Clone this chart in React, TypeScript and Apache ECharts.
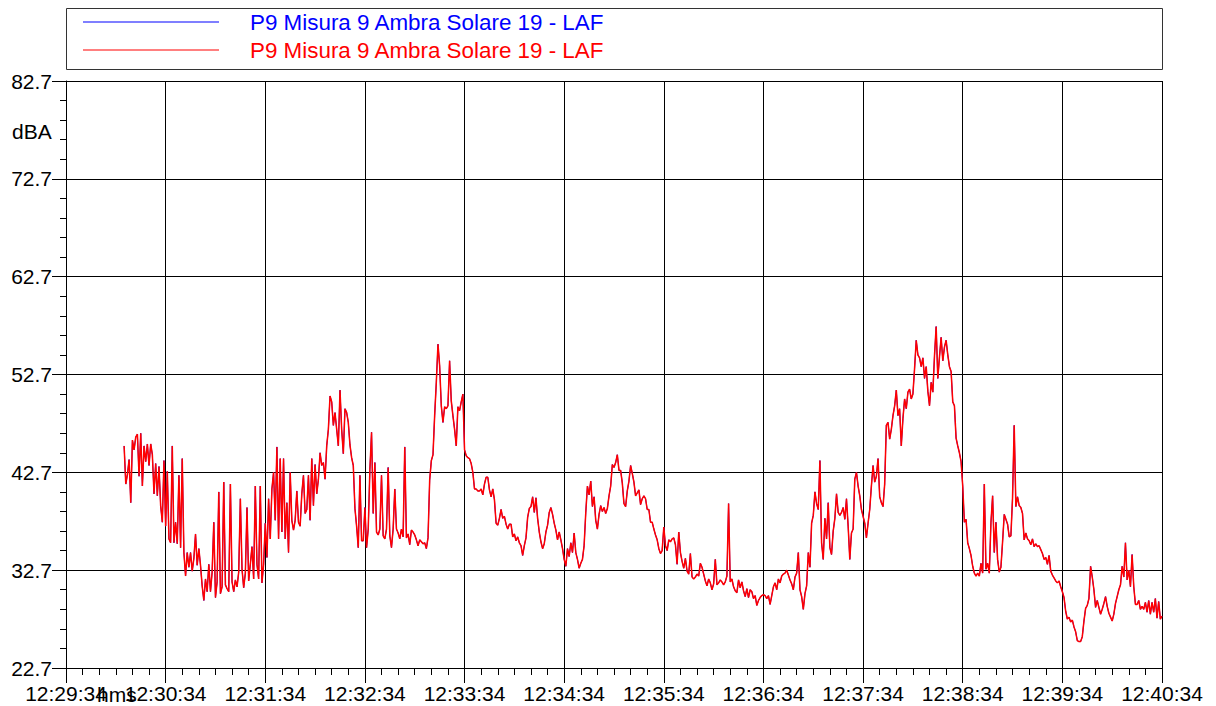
import React, { useEffect, useRef } from "react";
import * as echarts from "echarts";

const SERIES_NAME = "P9 Misura 9 Ambra Solare 19 - LAF";
const X_UNIT = "hms";
const Y_UNIT = "dBA";
// x axis: seconds after 12:29:34
const FIRST_SAMPLE_SEC = 35;
const SAMPLE_STEP_SEC = 1;
const X_MIN = 0;
const X_MAX = 660;
const X_TICK_LABELS = [
  "12:29:34", "12:30:34", "12:31:34", "12:32:34", "12:33:34", "12:34:34",
  "12:35:34", "12:36:34", "12:37:34", "12:38:34", "12:39:34", "12:40:34",
];
const Y_MIN = 22.7;
const Y_MAX = 82.7;

// LAF values (dBA), one per second, grouped by minute
const seg0 = [45.4, 41.5, 42.5, 44.0, 39.6, 46.0, 45.0, 46.3, 46.6, 42.3, 46.7, 41.3, 45.4, 43.8, 45.6, 43.4, 45.6, 44.5, 40.5, 43.6, 40.3, 43.3, 39.3, 37.6, 43.9];
const seg1 = [37.2, 42.8, 35.9, 35.5, 45.4, 35.5, 37.6, 35.4, 42.4, 35.0, 44.1, 34.5, 32.1, 34.5, 33.0, 34.5, 32.6, 33.9, 36.4, 33.2,
  34.9, 33.2, 31.1, 29.6, 31.8, 30.5, 33.3, 30.5, 32.5, 37.6, 29.9, 31.5, 40.7, 30.3, 31.0, 41.7, 31.2, 30.8, 30.5, 41.5,
  31.5, 30.5, 31.7, 31.0, 32.5, 40.0, 32.8, 30.9, 32.4, 39.1, 31.6, 33.3, 35.1, 31.8, 41.3, 33.3, 31.8, 41.3, 31.4, 33.3];
const seg2 = [37.5, 34.0, 40.0, 35.9, 41.0, 42.7, 37.8, 45.3, 35.9, 44.1, 36.6, 44.1, 35.9, 39.6, 34.5, 42.7, 37.8, 36.8, 37.8, 40.8,
  37.6, 37.2, 40.5, 42.4, 38.5, 38.9, 42.4, 37.8, 44.1, 39.3, 43.5, 40.5, 42.0, 44.7, 43.4, 43.7, 42.0, 45.4, 47.1, 50.5,
  49.9, 47.5, 48.8, 47.1, 45.4, 51.1, 47.1, 44.6, 49.2, 48.8, 47.8, 45.5, 44.2, 43.4, 39.0, 37.2, 35.0, 42.4, 35.7, 35.7];
const seg3 = [39.1, 35.0, 36.9, 43.0, 46.8, 38.5, 43.7, 36.6, 36.3, 36.9, 42.4, 36.2, 35.9, 36.9, 43.2, 36.2, 35.0, 36.9, 41.0, 36.9,
  36.5, 35.9, 36.9, 36.1, 45.3, 36.0, 36.4, 35.3, 36.8, 36.6, 36.3, 35.8, 35.2, 35.8, 35.6, 35.4, 35.5, 34.9, 36.0, 41.9,
  43.9, 44.5, 48.5, 51.9, 55.8, 53.6, 49.5, 47.8, 49.4, 49.2, 49.5, 54.1, 50.0, 48.5, 47.1, 45.4, 49.4, 49.0, 49.9, 50.7];
const seg4 = [45.0, 44.4, 44.2, 44.1, 43.6, 42.7, 41.0, 41.0, 40.8, 40.8, 41.0, 40.4, 41.5, 42.2, 42.2, 40.9, 40.2, 41.0, 39.9, 37.5,
  37.3, 38.0, 38.9, 38.0, 38.2, 37.4, 36.9, 37.4, 37.4, 36.1, 36.4, 35.7, 36.1, 35.5, 35.2, 34.2, 35.2, 36.0, 38.1, 39.0,
  39.2, 40.2, 38.6, 40.1, 38.0, 36.6, 35.6, 34.9, 35.4, 36.6, 37.3, 38.6, 39.1, 38.4, 37.5, 36.8, 35.8, 36.6, 35.8, 34.9];
const seg5 = [33.8, 33.1, 34.9, 34.1, 35.5, 34.5, 36.5, 34.5, 33.8, 32.9, 33.4, 33.8, 35.2, 38.6, 41.3, 40.4, 41.8, 39.2, 40.2, 37.8,
  36.9, 38.4, 39.3, 38.7, 39.1, 38.5, 39.0, 40.3, 41.3, 43.5, 43.2, 43.7, 44.5, 42.9, 42.9, 41.6, 39.5, 39.2, 40.8, 41.8,
  43.4, 42.6, 41.7, 40.3, 40.6, 40.9, 39.4, 40.0, 40.3, 40.0, 38.9, 38.9, 37.6, 37.6, 36.9, 36.3, 35.8, 34.9, 34.4, 34.7];
const seg6 = [37.1, 35.2, 34.7, 35.8, 35.6, 35.9, 36.0, 35.3, 33.3, 36.6, 34.5, 33.6, 32.9, 33.9, 32.6, 32.3, 34.4, 32.0, 31.8, 32.0,
  32.3, 32.1, 33.4, 33.0, 32.3, 31.6, 31.1, 31.8, 31.4, 30.7, 31.3, 33.8, 31.2, 31.4, 31.7, 31.5, 31.2, 31.5, 32.1, 39.5,
  31.5, 31.8, 31.0, 30.6, 30.4, 31.7, 30.9, 31.5, 30.6, 30.0, 30.8, 29.9, 30.7, 30.5, 29.8, 30.1, 29.1, 29.6, 29.9, 30.1];
const seg7 = [30.2, 30.1, 29.8, 30.1, 29.2, 30.1, 31.0, 31.4, 30.7, 31.8, 31.4, 32.1, 32.3, 32.4, 32.7, 32.2, 31.7, 31.3, 30.7, 32.0,
  32.4, 34.5, 30.7, 30.0, 28.7, 30.3, 31.1, 34.5, 33.0, 37.5, 38.3, 40.7, 39.5, 38.9, 43.9, 35.5, 33.8, 38.0, 35.9, 39.6,
  35.0, 34.3, 36.7, 38.0, 40.5, 38.6, 38.3, 38.6, 39.1, 37.9, 40.0, 37.2, 33.8, 36.5, 36.9, 42.0, 42.7, 41.3, 40.3, 38.9];
const seg8 = [38.2, 37.5, 36.0, 37.5, 38.9, 41.3, 43.4, 41.7, 42.3, 44.1, 40.2, 39.6, 39.2, 41.5, 47.5, 47.8, 46.1, 47.1, 48.5, 49.5,
  51.1, 48.5, 49.2, 45.4, 48.2, 50.2, 49.2, 50.9, 51.2, 50.2, 50.7, 53.3, 56.2, 54.7, 54.4, 53.5, 54.4, 52.3, 53.5, 51.0,
  49.5, 51.9, 50.9, 54.6, 57.6, 52.3, 54.5, 56.5, 54.1, 55.5, 56.2, 54.7, 53.5, 53.0, 49.9, 49.5, 46.2, 45.4, 44.7, 43.8];
const seg9 = [41.3, 37.6, 37.9, 35.5, 34.9, 34.2, 33.1, 32.4, 32.1, 32.4, 32.1, 33.4, 32.4, 41.5, 32.8, 33.4, 32.4, 37.6, 40.3, 34.5,
  37.6, 33.8, 32.5, 33.0, 35.6, 38.4, 37.9, 37.4, 36.1, 36.2, 40.1, 47.5, 39.2, 40.2, 39.3, 39.1, 38.5, 35.8, 36.5, 35.9,
  35.7, 35.3, 35.9, 35.1, 35.4, 35.1, 35.2, 34.8, 34.4, 33.8, 34.0, 33.3, 34.2, 32.6, 32.2, 31.9, 31.6, 31.4, 31.6, 31.0];
const seg10 = [30.5, 29.9, 28.5, 27.7, 27.9, 27.4, 27.6, 26.9, 26.4, 25.5, 25.4, 25.4, 25.9, 27.5, 28.8, 29.1, 29.8, 33.1, 32.0, 30.7,
  28.9, 29.6, 28.9, 28.2, 28.7, 29.3, 30.0, 29.0, 28.3, 27.9, 27.5, 28.2, 29.3, 30.0, 30.7, 31.2, 33.1, 32.0, 35.5, 31.7,
  32.7, 31.0, 34.3, 31.0, 29.2, 29.2, 29.6, 28.7, 29.0, 28.7, 29.4, 28.4, 29.6, 28.2, 29.4, 28.4, 29.8, 27.8, 29.5, 27.7, 28.0];

const FONT = "Arial, 'Liberation Sans', sans-serif";

export default function App() {
  const ref = useRef<HTMLDivElement>(null);
  useEffect(() => {
    const chart = echarts.init(ref.current!, null, { renderer: "svg" });
    const values = [...seg0, ...seg1, ...seg2, ...seg3, ...seg4, ...seg5, ...seg6, ...seg7, ...seg8, ...seg9, ...seg10];
    const data = values.map((v, i) => [FIRST_SAMPLE_SEC + i * SAMPLE_STEP_SEC, v]);
    chart.setOption({
      animation: false,
      backgroundColor: "#ffffff",
      grid: { left: 66, right: 54, top: 81, bottom: 38, containLabel: false },
      legend: {
        orient: "vertical",
        left: 83,
        top: 10,
        padding: 0,
        itemGap: 4,
        itemWidth: 136,
        itemHeight: 1,
        icon: "rect",
        selectedMode: false,
        formatter: (n: string) => n.trim(),
        textStyle: { fontFamily: FONT, fontSize: 22.4, lineHeight: 24, padding: [0, 0, 0, 26] },
        data: [
          { name: SERIES_NAME, textStyle: { color: "#0000ff" } },
          { name: SERIES_NAME + " ", textStyle: { color: "#ff0000" } },
        ],
      },
      xAxis: {
        type: "value",
        min: X_MIN,
        max: X_MAX,
        interval: 60,
        axisLine: { show: true, onZero: false, lineStyle: { color: "#000", width: 1 } },
        axisTick: { show: true, length: 15, lineStyle: { color: "#000" } },
        minorTick: { show: true, splitNumber: 6, length: 7, lineStyle: { color: "#000" } },
        splitLine: { show: true, lineStyle: { color: "#000", width: 1 } },
        axisLabel: {
          formatter: (v: number) => X_TICK_LABELS[Math.round(v / 60)] ?? "",
          fontFamily: FONT,
          fontSize: 21,
          color: "#000",
          margin: 15,
          hideOverlap: false,
          showMinLabel: true,
          showMaxLabel: true,
        },
      },
      yAxis: {
        type: "value",
        min: Y_MIN,
        max: Y_MAX,
        interval: 10,
        axisLine: { show: true, onZero: false, lineStyle: { color: "#000", width: 1 } },
        axisTick: { show: true, length: 14, lineStyle: { color: "#000" } },
        minorTick: { show: true, splitNumber: 5, length: 6, lineStyle: { color: "#000" } },
        splitLine: { show: true, lineStyle: { color: "#000", width: 1 } },
        axisLabel: {
          formatter: (v: number) => v.toFixed(1),
          fontFamily: FONT,
          fontSize: 21,
          color: "#000",
          margin: 14,
          showMinLabel: true,
          showMaxLabel: true,
        },
      },
      series: [
        {
          name: SERIES_NAME,
          type: "line",
          data,
          symbol: "none",
          showSymbol: false,
          color: "#0000ff",
          lineStyle: { color: "#0000ff", width: 1 },
          z: 2,
        },
        {
          name: SERIES_NAME + " ",
          type: "line",
          data,
          symbol: "none",
          showSymbol: false,
          color: "#ff0000",
          lineStyle: { color: "#ff0000", width: 1.5 },
          z: 3,
        },
      ],
      graphic: [
        {
          type: "rect",
          silent: true,
          shape: { x: 66.5, y: 8.5, width: 1096, height: 61 },
          style: { fill: "none", stroke: "#333", lineWidth: 1 },
        },
        {
          type: "text",
          left: 12,
          top: 121,
          silent: true,
          style: { text: Y_UNIT, font: `21px ${FONT}`, fill: "#000" },
        },
        {
          type: "text",
          left: 97,
          top: 684,
          silent: true,
          style: { text: X_UNIT, font: `21px ${FONT}`, fill: "#000" },
        },
      ],
    });
    return () => chart.dispose();
  }, []);
  return <div ref={ref} style={{ position: "fixed", left: 0, top: 0, width: 1216, height: 706 }} />;
}
